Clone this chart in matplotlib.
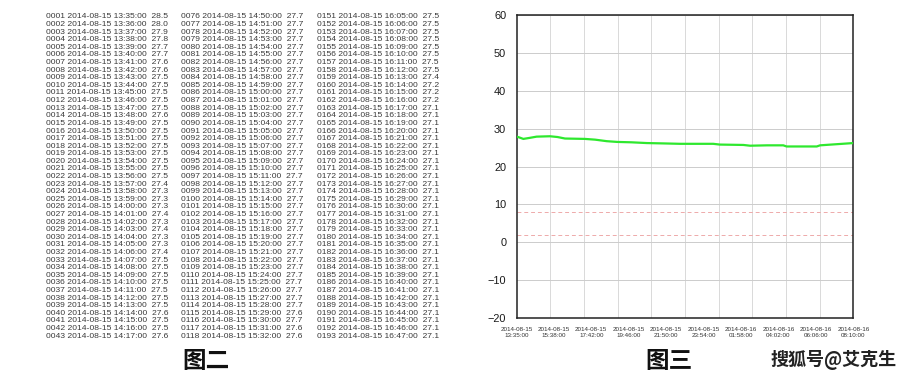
import matplotlib
matplotlib.use('Agg')
import matplotlib.pyplot as plt
from matplotlib.transforms import Bbox
import datetime as dt

# ---------------- data ----------------
list_start_time = dt.datetime(2014, 8, 15, 13, 35)
col1_first = 1
col1_values = [28.5, 28.0, 27.9, 27.8, 27.7, 27.7, 27.6, 27.6, 27.5, 27.5,
               27.5, 27.5, 27.5, 27.6, 27.5, 27.5, 27.5, 27.5, 27.5, 27.5,
               27.5, 27.5, 27.4, 27.3, 27.3, 27.3, 27.4, 27.3, 27.4, 27.3,
               27.3, 27.4, 27.5, 27.5, 27.5, 27.5, 27.5, 27.5, 27.5, 27.6,
               27.5, 27.5, 27.6]
col2_first = 76
col2_values = [27.7, 27.7, 27.7, 27.7, 27.7, 27.7, 27.7, 27.7, 27.7, 27.7,
               27.7, 27.7, 27.7, 27.7, 27.7, 27.7, 27.7, 27.7, 27.7, 27.7,
               27.7, 27.7, 27.7, 27.7, 27.7, 27.7, 27.7, 27.7, 27.7, 27.7,
               27.7, 27.7, 27.7, 27.7, 27.7, 27.7, 27.7, 27.7, 27.7, 27.6,
               27.7, 27.6, 27.6]
col3_first = 151
col3_values = [27.5, 27.5, 27.5, 27.5, 27.5, 27.5, 27.5, 27.5, 27.4, 27.2,
               27.2, 27.2, 27.1, 27.1, 27.1, 27.1, 27.1, 27.1, 27.1, 27.1,
               27.1, 27.1, 27.1, 27.1, 27.1, 27.1, 27.1, 27.1, 27.1, 27.1,
               27.1, 27.1, 27.1, 27.1, 27.1, 27.1, 27.1, 27.1, 27.1, 27.1,
               27.1, 27.1, 27.1]

# chart series (minute index from 2014-08-15 13:35:00, temperature)
line_minutes = [0, 8, 22, 45, 66, 110, 135, 160, 226, 260, 298, 333, 380, 431,
                490, 541, 600, 651, 673, 751, 773, 830, 883, 894, 994, 1005,
                1060, 1115]
line_values = [27.9, 27.7, 27.3, 27.6, 27.9, 28.0, 27.8, 27.4, 27.3, 27.1,
               26.7, 26.5, 26.4, 26.2, 26.1, 26.0, 26.0, 26.0, 25.8, 25.7,
               25.5, 25.6, 25.6, 25.3, 25.3, 25.6, 25.9, 26.2]
x_tick_minutes = [0, 123, 247, 371, 495, 619, 743, 867, 991, 1115]
x_tick_labels = ["2014-08-15\n13:35:00", "2014-08-15\n15:38:00",
                 "2014-08-15\n17:42:00", "2014-08-15\n19:46:00",
                 "2014-08-15\n21:50:00", "2014-08-15\n23:54:00",
                 "2014-08-16\n01:58:00", "2014-08-16\n04:02:00",
                 "2014-08-16\n06:06:00", "2014-08-16\n08:10:00"]
y_ticks = [-20, -10, 0, 10, 20, 30, 40, 50, 60]
limit_lines = [8, 2]

# ---------------- figure ----------------
W, H = 920, 380
fig = plt.figure(figsize=(W / 100, H / 100), dpi=100)
fig.patch.set_facecolor('white')


def fx(px):
    return px / W


def fy(py):
    return 1 - py / H


# text listing (bottom row cut off as in the screenshot)
clip = Bbox.from_extents(0, H - 337.5, 470, H)
cols = [(46, col1_first, col1_values), (181, col2_first, col2_values),
        (317, col3_first, col3_values)]
row_y0, row_dy = 17, 7.6
for cx, n0, vals in cols:
    for i, v in enumerate(vals):
        idx = n0 + i
        t = list_start_time + dt.timedelta(minutes=idx - 1)
        s = f"{idx:04d} {t:%Y-%m-%d %H:%M:%S}  {v:.1f}"
        txt = fig.text(fx(cx), fy(row_y0 + i * row_dy), s, fontsize=6.1,
                       family='Liberation Sans', color='#3a3a3a',
                       ha='left', va='center')
        txt.set_clip_box(clip)
        txt.set_clip_on(True)

# chart
ax = fig.add_axes([fx(516.7), fy(317.7), 336.6 / W, 302.4 / H])
ax.set_xlim(0, 1115)
ax.set_ylim(-20, 60)
ax.set_yticks(y_ticks)
ax.set_xticks(x_tick_minutes)
ax.set_xticklabels(x_tick_labels, fontsize=4.5, family='Liberation Sans',
                   color='#333333', linespacing=1.25)
ax.set_xticks([1115 * i / 10 for i in range(1, 10)], minor=True)
ax.tick_params(axis='y', labelsize=7.9, pad=7.5, colors='#1a1a1a', length=0)
ax.tick_params(axis='x', which='both', length=0, pad=7)
for lab in ax.get_yticklabels():
    lab.set_family('Liberation Sans')
ax.grid(which='minor', axis='x', color='#d9d9d9', lw=0.7)
ax.grid(which='major', axis='y', color='#cccccc', lw=0.7)
ax.grid(which='major', axis='x', visible=False)
ax.set_axisbelow(True)
for y in limit_lines:
    ax.axhline(y, color='#eeaaaa', lw=0.7, ls=(0, (4, 3)))
ax.plot(line_minutes, line_values, color='#2ee82e', lw=1.6, zorder=3)
for sp in ax.spines.values():
    sp.set_color('#222222')
    sp.set_linewidth(1.1)

# captions
cjk = ['Noto Sans CJK SC', 'DejaVu Sans']
fig.text(fx(206), fy(361), '图二', fontsize=17, weight='heavy', family=cjk,
         ha='center', va='center', color='#111111')
fig.text(fx(669), fy(361), '图三', fontsize=17, weight='heavy', family=cjk,
         ha='center', va='center', color='#111111')
fig.text(fx(834), fy(360), '搜狐号@艾克生', fontsize=13, weight='bold',
         family=cjk, ha='center', va='center', color='#222222')

fig.savefig('out.png', dpi=100, facecolor='white')
